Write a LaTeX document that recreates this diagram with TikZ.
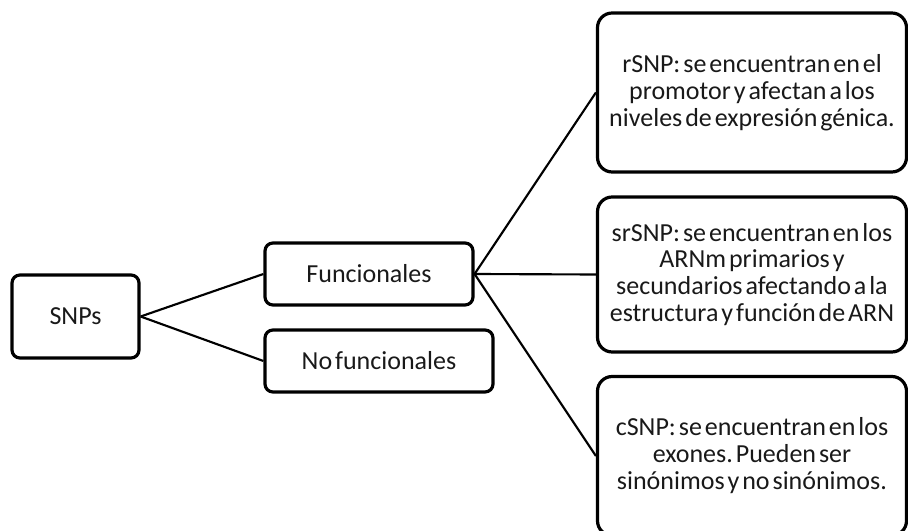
\documentclass[tikz,border=0pt]{standalone}
\usepackage{fontspec}
\setmainfont{Carlito}[WordSpace=0.5]
\begin{document}
\frenchspacing
\begin{tikzpicture}[x=0.75pt,y=-0.75pt,
  box/.style={draw=black,line width=2.4pt,rounded corners=6pt,align=center,
    inner sep=0pt,font=\fontsize{19.5}{20.2}\selectfont,text=black!90},
  bigbox/.style={box,rounded corners=11pt,minimum width=231.75pt},
  link/.style={draw=black,line width=1.6pt}]
  \useasboundingbox (0,0) rectangle (908,531);
  \node[box,minimum width=95.25pt,minimum height=62.25pt] (snps) at (75.5,316.5) {SNPs};
  \node[box,minimum width=156pt,minimum height=46.5pt] (func) at (369,274) {Funcionales};
  \node[box,minimum width=171pt,minimum height=46.5pt] (nofunc) at (379,361) {No funcionales};
  \node[bigbox,minimum height=119.25pt] (rsnp) at (752,92.5)
    {rSNP: se encuentran en el\\promotor y afectan a los\\niveles de expresión génica.};
  \node[bigbox,minimum height=116.25pt] (srsnp) at (752,274.5)
    {srSNP: se encuentran en los\\ARNm primarios y\\secundarios afectando a la\\estructura y función de ARN};
  \node[bigbox,minimum height=119.25pt] (csnp) at (752,456)
    {cSNP: se encuentran en los\\exones. Pueden ser\\sinónimos y no sinónimos.};
  \draw[link] (snps.east) -- (func.west);
  \draw[link] (snps.east) -- (nofunc.west);
  \draw[link] (func.east) -- (rsnp.west);
  \draw[link] (func.east) -- (srsnp.west);
  \draw[link] (func.east) -- (csnp.west);
\end{tikzpicture}
\end{document}
